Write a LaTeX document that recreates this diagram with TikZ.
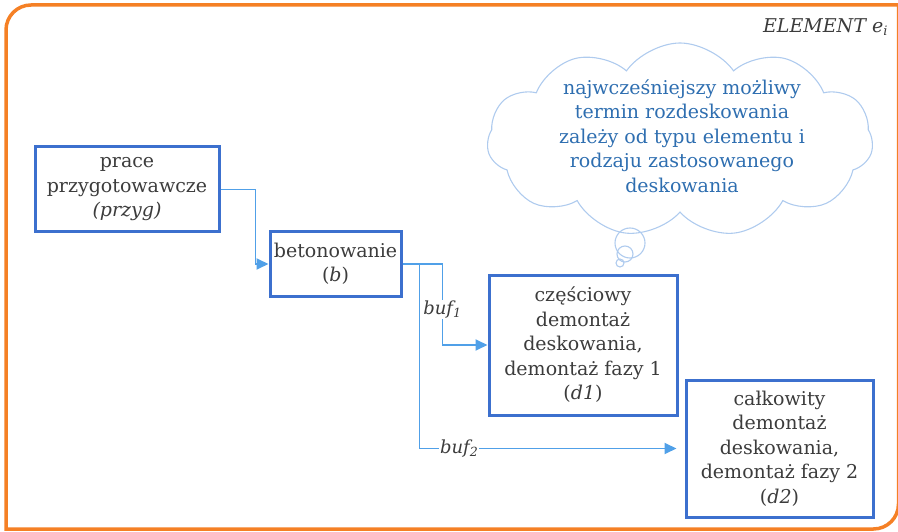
\documentclass[tikz,border=0pt]{standalone}
\usepackage{fontspec}
\setmainfont{DejaVu Serif}
\usetikzlibrary{arrows.meta,shapes.symbols}
\definecolor{frameorange}{RGB}{245,128,37}
\definecolor{boxblue}{RGB}{60,112,206}
\definecolor{linkblue}{RGB}{80,160,232}
\definecolor{cloudline}{RGB}{175,203,238}
\definecolor{cloudtext}{RGB}{46,110,176}
\definecolor{txt}{RGB}{60,60,60}
\tikzset{
  stepbox/.style={draw=boxblue, line width=3pt, fill=white, align=center,
    inner sep=0pt, text=txt},
  link/.style={draw=linkblue, line width=1.8pt,
    -{Triangle[length=12pt,width=11pt]}},
  buflabel/.style={fill=white, inner sep=1pt, text=txt,
    font=\fontsize{18}{20}\selectfont\itshape},
}
\begin{document}
\begin{tikzpicture}[x=1pt,y=-1pt, font=\fontsize{19}{24.5}\selectfont]
\useasboundingbox (0,0) rectangle (898,532);

% outer frame: rounded top-left and bottom-right corners
\draw[frameorange, line width=3.5pt]
  (6,529) -- (6,30) .. controls (6,16.2) and (17.2,5) .. (31,5)
  -- (898.5,5) -- (898.5,504) .. controls (898.5,517.8) and (887.3,529) .. (873.5,529)
  -- cycle;
\node[text=txt, anchor=east, font=\fontsize{19}{20}\selectfont\itshape] (title)
  at (891,27) {ELEMENT e\raisebox{-0.3ex}{\fontsize{13}{13}\selectfont i}};

% thought cloud
\node[cloud, cloud puffs=11, cloud puff arc=110, aspect=2.1, draw=cloudline,
  line width=1.1pt, minimum width=386pt, minimum height=194pt, inner sep=0pt]
  (cloud) at (680,140) {};
\draw[cloudline, line width=1.1pt] (630,243) circle (15pt);
\draw[cloudline, line width=1.1pt] (625,254) circle (8pt);
\draw[cloudline, line width=1.1pt] (620,263) circle (4pt);
\node[align=center, text=cloudtext] (note) at (682,136)
  {najwcześniejszy możliwy\\termin rozdeskowania\\zależy od typu elementu i\\rodzaju zastosowanego\\deskowania};

% process steps
\node[stepbox, minimum width=184pt, minimum height=85pt] (przyg) at (127,189.5)
  {prace\\przygotowawcze\\\textit{(przyg)}};
\node[stepbox, minimum width=131pt, minimum height=65pt] (b) at (335.5,264)
  {betonowanie\\(\textit{b})};
\node[stepbox, minimum width=188pt, minimum height=140pt] (d1) at (583,345)
  {częściowy\\demontaż\\deskowania,\\demontaż fazy 1\\(\textit{d1})};
\node[stepbox, minimum width=187pt, minimum height=137pt] (d2) at (779.5,448.5)
  {całkowity\\demontaż\\deskowania,\\demontaż fazy 2\\(\textit{d2})};

% connectors
\draw[link] (przyg.east) -- ++(35,0) |- (b.west);
\draw[link] (b.east) -- ++(40,0) |- (d1.west)
  node[buflabel, pos=0.28] {buf\textsubscript{1}};
\draw[link, shorten >=8pt] (b.east) -- ++(17,0) |- (d2.west)
  node[buflabel, pos=0.575] {buf\textsubscript{2}};
\end{tikzpicture}
\end{document}
